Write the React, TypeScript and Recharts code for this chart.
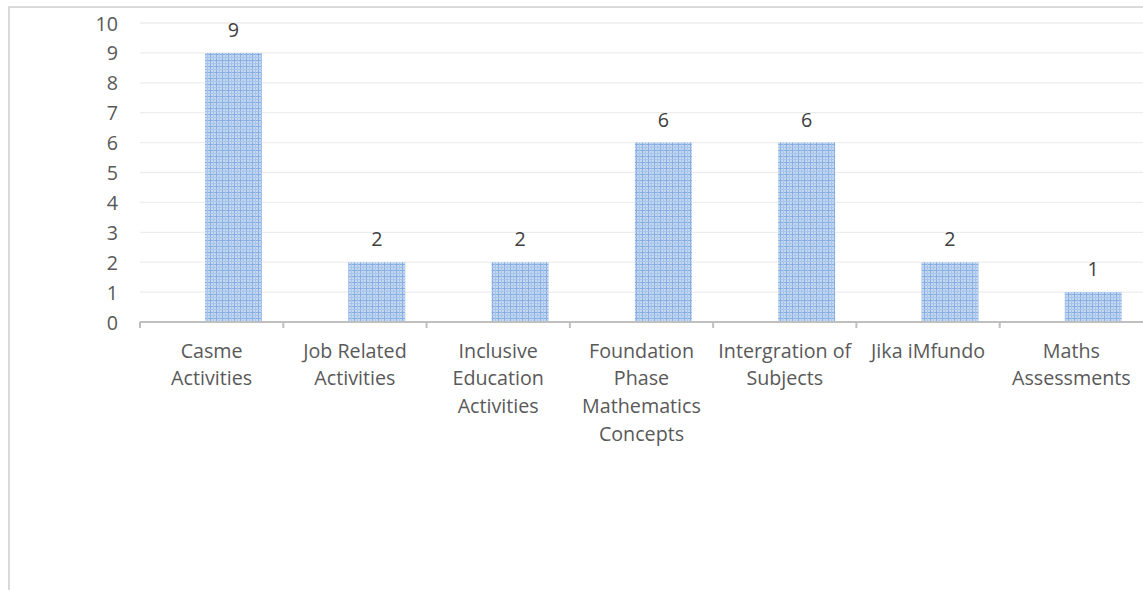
import { BarChart, Bar, XAxis, YAxis, CartesianGrid, LabelList } from "recharts";

const categories = [
  "Casme Activities",
  "Job Related Activities",
  "Inclusive Education Activities",
  "Foundation Phase Mathematics Concepts",
  "Intergration of Subjects",
  "Jika iMfundo",
  "Maths Assessments",
];

// how Excel wrapped each category label
const tickLines = [
  ["Casme", "Activities"],
  ["Job Related", "Activities"],
  ["Inclusive", "Education", "Activities"],
  ["Foundation", "Phase", "Mathematics", "Concepts"],
  ["Intergration of", "Subjects"],
  ["Jika iMfundo"],
  ["Maths", "Assessments"],
];

const counts = [9, 2, 2, 6, 6, 2, 1];
// second (empty) series in the source workbook, it shifts the bars right
const blank: (number | null)[] = [null, null, null, null, null, null, null];
const yTicks = [0, 1, 2, 3, 4, 5, 6, 7, 8, 9, 10];

const data = categories.map((name, i) => ({ name, blank: blank[i], count: counts[i] }));

const W = 1143;
const H = 590;
const AXIS_W = 140;
const BAND = (W - AXIS_W) / categories.length;
const FONT = "'Open Sans', sans-serif";
const FS = 19.7;

function XTick({ x, y, index }: any) {
  const lines = tickLines[index] || [];
  return (
    <g>
      <line x1={x - BAND / 2} x2={x - BAND / 2} y1={y} y2={y + 6} stroke="#bfbfbf" strokeWidth={2} />
      {lines.map((l, i) => (
        <text
          key={i}
          x={x}
          y={y + 35.5 + i * 27.7}
          textAnchor="middle"
          fill="#595959"
          fontSize={FS}
          fontFamily={FONT}
        >
          {l}
        </text>
      ))}
    </g>
  );
}

function YTick({ x, y, payload }: any) {
  return (
    <text x={x - 22} y={y + 7.5} textAnchor="end" fill="#595959" fontSize={FS} fontFamily={FONT}>
      {payload.value}
    </text>
  );
}

export default function App() {
  return (
    <div style={{ position: "fixed", left: 0, top: 0, width: W, height: H, overflow: "hidden", background: "#fff" }}>
      <div
        style={{
          position: "absolute",
          left: 8,
          top: 6,
          width: 1300,
          height: 800,
          borderLeft: "2px solid #dadada",
          borderTop: "2px solid #dadada",
        }}
      />
      <div style={{ position: "absolute", left: 0, top: 0 }}>
        <BarChart
          width={W}
          height={H}
          data={data}
          margin={{ top: 23, right: 0, bottom: 0, left: 0 }}
          barSize={57}
          barGap={-13}
        >
          <defs>
            <pattern id="plaid" width="6" height="6" patternUnits="userSpaceOnUse">
              <rect width="6" height="6" fill="#c4d7f1" />
              <rect x="0" width="1" height="6" fill="#86aee1" />
              <rect y="0" width="6" height="1" fill="#86aee1" />
              <rect x="3" width="1" height="6" fill="#a9c4ea" />
              <rect y="3" width="6" height="1" fill="#a9c4ea" />
            </pattern>
          </defs>
          <CartesianGrid vertical={false} stroke="#ededed" strokeWidth={1.3} />
          <XAxis
            dataKey="name"
            interval={0}
            height={H - 322}
            tickLine={false}
            tickSize={0}
            tickMargin={0}
            axisLine={{ stroke: "#bfbfbf", strokeWidth: 2 }}
            tick={<XTick />}
          />
          <YAxis
            width={AXIS_W}
            domain={[0, 10]}
            ticks={yTicks}
            interval={0}
            axisLine={false}
            tickLine={false}
            tickSize={0}
            tickMargin={0}
            tick={<YTick />}
          />
          <Bar dataKey="blank" fill="none" isAnimationActive={false} />
          <Bar dataKey="count" fill="url(#plaid)" isAnimationActive={false}>
            <LabelList
              dataKey="count"
              position="top"
              offset={16}
              fill="#404040"
              fontSize={FS}
              fontFamily={FONT}
            />
          </Bar>
        </BarChart>
      </div>
    </div>
  );
}
